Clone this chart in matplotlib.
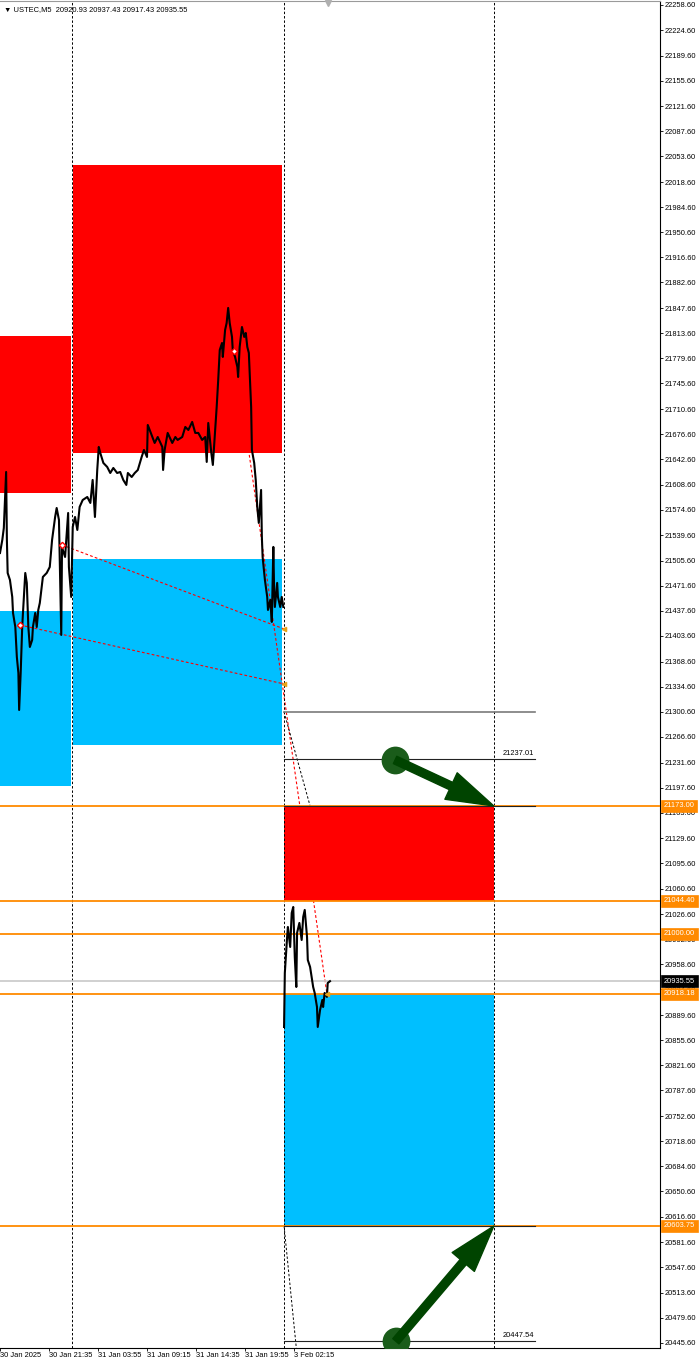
import matplotlib
matplotlib.use("Agg")
import matplotlib.pyplot as plt

plt.rcParams['font.family'] = ['Liberation Sans', 'DejaVu Sans']

# price scale on the right
price_ticks = [22258.60, 22224.60, 22189.60, 22155.60, 22121.60, 22087.60, 22053.60,
               22018.60, 21984.60, 21950.60, 21916.60, 21882.60, 21847.60, 21813.60,
               21779.60, 21745.60, 21710.60, 21676.60, 21642.60, 21608.60, 21574.60,
               21539.60, 21505.60, 21471.60, 21437.60, 21403.60, 21368.60, 21334.60,
               21300.60, 21266.60, 21231.60, 21197.60, 21163.60, 21129.60, 21095.60,
               21060.60, 21026.60, 20992.60, 20958.60, 20924.60, 20889.60, 20855.60,
               20821.60, 20787.60, 20752.60, 20718.60, 20684.60, 20650.60, 20616.60,
               20581.60, 20547.60, 20513.60, 20479.60, 20445.60]

# time scale (bar index, M5)
time_ticks = [0, 64, 128, 192, 256, 320, 384]
time_labels = ['30 Jan 2025', '30 Jan 21:35', '31 Jan 03:55', '31 Jan 09:15',
               '31 Jan 14:35', '31 Jan 19:55', '3 Feb 02:15']

# session 30-31 Jan
bars_1 = [0, 3, 5, 8, 9, 10, 13, 16, 17, 20, 22, 24, 25, 27, 29, 30, 33, 35, 37, 39, 42,
          43, 46, 48, 50, 52, 56, 61, 65, 68, 72, 74, 77, 80, 81, 82, 85, 89, 90, 93,
          95, 98, 101, 104, 108, 114, 118, 121, 124, 127, 129, 131, 135, 140, 144, 148,
          153, 157, 161, 165, 167, 172, 176, 180, 185, 188, 192, 193, 199, 202, 206,
          212, 213, 215, 219, 225, 229, 232, 238, 242, 246, 251, 255, 259, 264, 268,
          270, 272, 276, 278, 281, 283, 285, 287, 290, 291, 294, 296, 298, 300, 303,
          304, 307, 310, 311, 313, 316, 319, 321, 323, 325, 328, 329, 332, 334, 336,
          338, 341, 342, 343, 346, 349, 350, 353, 355, 357, 358, 359, 362, 363, 366,
          368, 370]
close_1 = [21515.9, 21533.5, 21549.8, 21625.7, 21533.5, 21488.8, 21479.3, 21456.3, 21434.6,
           21415.6, 21375.0, 21353.3, 21303.1, 21353.3, 21415.6, 21434.6, 21488.8,
           21475.3, 21415.6, 21388.5, 21398.0, 21415.6, 21434.6, 21415.6, 21438.7,
           21448.2, 21483.4, 21488.8, 21496.9, 21533.5, 21564.7, 21576.9, 21560.6,
           21404.8, 21524.1, 21520.0, 21510.5, 21570.1, 21496.9, 21456.3, 21551.2,
           21564.7, 21547.1, 21578.3, 21587.7, 21591.8, 21583.7, 21614.9, 21564.7,
           21628.4, 21659.6, 21651.4, 21637.9, 21632.5, 21624.3, 21631.1, 21624.3,
           21625.7, 21614.9, 21608.1, 21624.3, 21618.9, 21624.3, 21628.4, 21646.0,
           21655.5, 21646.0, 21689.4, 21673.1, 21665.0, 21673.1, 21659.6, 21628.4,
           21655.5, 21678.6, 21665.0, 21673.1, 21669.1, 21673.1, 21686.7, 21682.6,
           21693.5, 21678.6, 21678.6, 21669.1, 21673.1, 21639.3, 21692.1, 21651.4,
           21635.2, 21682.6, 21713.8, 21750.4, 21791.0, 21800.5, 21781.6, 21818.2,
           21827.6, 21848.0, 21827.6, 21808.7, 21791.0, 21781.6, 21768.0, 21754.4,
           21795.1, 21822.2, 21808.7, 21814.1, 21795.1, 21787.0, 21713.8, 21655.5,
           21637.9, 21614.9, 21578.3, 21556.6, 21601.3, 21537.6, 21510.5, 21479.3,
           21456.3, 21438.7, 21452.2, 21422.4, 21524.1, 21465.8, 21442.7, 21475.3,
           21456.3, 21442.7, 21456.3, 21442.7]

# session 3 Feb
bars_2 = [371, 372, 375, 376, 379, 381, 383, 385, 387, 388, 391, 394, 396, 398, 401,
          402, 405, 407, 409, 411, 414, 415, 418, 421, 422, 424, 427, 428, 431]
close_2 = [20873.5, 20946.7, 20995.5, 21009.0, 20981.9, 21028.0, 21036.1, 20968.4,
           20927.7, 21000.9, 21014.5, 20991.4, 21022.6, 21032.1, 20995.5, 20964.3,
           20954.8, 20941.3, 20927.7, 20919.6, 20900.6, 20873.5, 20896.5, 20910.1,
           20900.6, 20919.6, 20914.2, 20933.1, 20935.55]

# zones: start bar, end bar, low, high
supply_zones = [(0, 93, 21597.2, 21810.0), (95, 368, 21651.4, 22041.8)]
demand_zones = [(0, 93, 21200.1, 21437.3), (95, 368, 21255.7, 21507.8)]
new_supply = (371, 645, 21044.40, 21173.00)
new_demand = (371, 645, 20603.75, 20918.18)

orange_levels = [21173.00, 21044.40, 21000.00, 20918.18, 20603.75]
last_price = 20935.55
session_lines = [94, 371, 645]

# short projected levels
target_start, target_end = 371, 699
dark_levels = [21237.01, 21173.00, 20603.75, 20447.54]
grey_level = 21300.40
labelled_levels = [21237.01, 20447.54]

# trend lines (bars, prices)
red_lines = [([81, 371], [21526.8, 21412.9]),
             ([26, 371], [21418.3, 21338.4]),
             ([306, 427], [21789.7, 20918.18])]
black_lines = [([371, 405], [21300.40, 21173.00]),
               ([371, 387], [20603.75, 20438.4])]
pivots_bar = [81, 26, 306]
pivots_price = [21526.8, 21418.3, 21789.7]

# arrows: tail -> head
arrow_tails = [(516, 21235.4), (517, 20447.54)]
arrow_heads = [(645, 21173.00), (645, 20603.75)]

RED = '#ff0000'
BLUE = '#00bfff'
ORANGE = '#ff8a00'
GREEN = '#004400'

fig = plt.figure(figsize=(7, 13.62), dpi=100)
ax = fig.add_axes([0, 14 / 1362, 660 / 700, 1347 / 1362])
ax.set_xlim(0, 862)
ax.set_ylim(20438.4, 22264.0)

for x0, x1, lo, hi in supply_zones:
    ax.fill_between([x0, x1], lo, hi, color=RED, lw=0, zorder=1)
for x0, x1, lo, hi in demand_zones:
    ax.fill_between([x0, x1], lo, hi, color=BLUE, lw=0, zorder=1)

for xs, ys in red_lines:
    ax.plot(xs, ys, color=RED, lw=0.8, ls=(0, (2.5, 2)), zorder=2)
for xs, ys in black_lines:
    ax.plot(xs, ys, color='black', lw=0.7, ls=(0, (2.5, 2)), zorder=2)

x0, x1, lo, hi = new_supply
ax.fill_between([x0, x1], lo, hi, color=RED, lw=0, zorder=3)
x0, x1, lo, hi = new_demand
ax.fill_between([x0, x1], lo, hi, color=BLUE, lw=0, zorder=3)

for x in session_lines:
    ax.axvline(x, color='black', lw=0.7, ls=(0, (2.5, 2)), zorder=4)

ax.axhline(last_price, color='#c8c8c8', lw=1.2, zorder=4)
for lv in orange_levels:
    ax.axhline(lv, color=ORANGE, lw=1.3, zorder=5)

ax.plot([target_start, target_end], [grey_level, grey_level], color='#7a7a7a', lw=1.2, zorder=6)
for lv in dark_levels:
    ax.plot([target_start, target_end], [lv, lv], color='#222222', lw=0.8, zorder=6)
for lv in labelled_levels:
    ax.text(target_end - 1, lv + 3, f'{lv:.2f}', fontsize=5.4, ha='right', va='bottom',
            color='black', zorder=6)

ax.plot(bars_1, close_1, color='black', lw=1.5, zorder=7)
ax.plot(bars_2, close_2, color='black', lw=1.5, zorder=7)
ax.plot(pivots_bar, pivots_price, 'D', ms=3.2, mfc='white', mec=RED, mew=1.0, zorder=8)
ax.plot([371, 371, 427], [21412.9, 21338.4, 20918.18], '<', ms=3, color='#e8a317', zorder=8)

for (tx, ty), (hx, hy) in zip(arrow_tails, arrow_heads):
    ax.plot(tx, ty, 'o', ms=20, color='#1a5c1a', mec='none', zorder=9)
    ax.annotate('', xy=(hx, hy), xytext=(tx, ty), zorder=10,
                arrowprops=dict(arrowstyle='simple,head_length=34,head_width=21,tail_width=5.8',
                                mutation_scale=1, color=GREEN, shrinkA=0, shrinkB=0))

# chart shift marker
ax.plot(428, 22261.0, 'v', ms=4, color='#b0b0b0', zorder=9, clip_on=False)

# axes styling
ax.spines['left'].set_visible(False)
ax.spines['top'].set_color('#9a9a9a')
ax.spines['top'].set_linewidth(0.8)
ax.spines['right'].set_linewidth(0.8)
ax.spines['bottom'].set_linewidth(0.8)

ax.yaxis.tick_right()
ax.set_yticks(price_ticks)
ax.set_yticklabels([f'{v:.2f}' for v in price_ticks])
ax.tick_params(axis='y', direction='out', length=2.2, width=0.6, labelsize=5.4, pad=1.5)

ax.set_xticks(time_ticks)
ax.set_xticklabels(time_labels)
ax.tick_params(axis='x', direction='out', length=2.2, width=0.6, labelsize=5.4, pad=1.0)
for lbl in ax.get_xticklabels():
    lbl.set_horizontalalignment('left')

# level tags on the price scale
tr = ax.get_yaxis_transform()
for lv in orange_levels:
    ax.text(1.006, lv, f'{lv:.2f}', transform=tr, fontsize=5.4, color='white',
            ha='left', va='center', zorder=12, clip_on=False,
            bbox=dict(boxstyle='square,pad=0.35', fc=ORANGE, ec=ORANGE, lw=0.5))
ax.text(1.006, last_price, f'{last_price:.2f}', transform=tr, fontsize=5.4, color='white',
        ha='left', va='center', zorder=12, clip_on=False,
        bbox=dict(boxstyle='square,pad=0.35', fc='black', ec='black', lw=0.5))

# header
ax.text(0.006, 0.996, '\u25bc USTEC,M5  20920.93 20937.43 20917.43 20935.55',
        transform=ax.transAxes, fontsize=5.4, ha='left', va='top', color='black', zorder=12)

fig.savefig('out.png', dpi=100)
plt.close(fig)
